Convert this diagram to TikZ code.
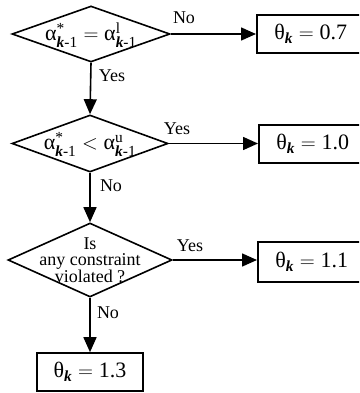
\documentclass[tikz,border=0pt]{standalone}
\usepackage{amsmath}
\usepackage{fontspec}
\setmainfont{Liberation Serif}
\usetikzlibrary{shapes.geometric,arrows.meta}

% subscript "k-1" with a bold italic k
\newcommand{\kmone}{\textbf{\textit{k}}\text{-1}}
\newcommand{\thk}[1]{$\text{θ}_{\textbf{\textit{k}}} = \text{#1}$}

\tikzset{
  flow/.style={line width=1.6pt, -{Triangle[length=15pt,width=13pt]}},
  decision/.style={diamond, draw, line width=1.6pt, inner sep=0pt},
  result/.style={rectangle, draw, line width=1.6pt, inner sep=0pt,
    font=\fontsize{22}{24}\selectfont},
  cond/.style={font=\fontsize{22}{24}\selectfont, inner sep=0pt},
  lab/.style={font=\fontsize{18}{20}\selectfont, inner sep=1pt}
}

\begin{document}
\begin{tikzpicture}[x=1pt,y=-1pt]
  \useasboundingbox (0,0) rectangle (359,393);
  \clip (0,0) rectangle (359,393);

  % decisions
  \node[decision, minimum width=158pt, minimum height=56pt] (d1) at (91,34) {};
  \node[cond] (t1) at ([yshift=-1pt]d1.center)
    {$\text{α}^{\text{*}}_{\kmone} = \text{α}^{\text{l}}_{\kmone}$};

  \node[decision, minimum width=156pt, minimum height=57pt] (d2) at (90,143.5) {};
  \node[cond] (t2) at ([yshift=-1pt]d2.center)
    {$\text{α}^{\text{*}}_{\kmone} < \text{α}^{\text{u}}_{\kmone}$};

  \node[decision, minimum width=164pt, minimum height=74pt] (d3) at (90,260) {};
  \node[font=\fontsize{18}{16.5}\selectfont, align=center, inner sep=0pt]
    (t3) at (d3.center) {Is\\any constraint\\violated ?};

  % results
  \node[result, minimum width=108pt, minimum height=38pt, anchor=west]
    (b1) at (256,34) {\thk{0.7}};
  \node[result, minimum width=108pt, minimum height=38pt, anchor=west]
    (b2) at (258,144) {\thk{1.0}};
  \node[result, minimum width=108pt, minimum height=40pt, anchor=west]
    (b3) at (257,262) {\thk{1.1}};
  \node[result, minimum width=106pt, minimum height=38pt]
    (b4) at (90,372) {\thk{1.3}};

  % connectors
  \draw[flow] (d1.east) -- (b1.west);
  \draw[flow] (d1.south) -- (d2.north);
  \draw[flow] (d2.east) -- (d2.east -| b2.west);
  \draw[flow] (d2.south) -- (d3.north);
  \draw[flow] (d3.east) -- (d3.east -| b3.west);
  \draw[flow] (d3.south) -- (b4.north);

  % branch labels
  \node[lab] (l1) at (184,18) {No};
  \node[lab] (l2) at (112,76) {Yes};
  \node[lab] (l3) at (177,129) {Yes};
  \node[lab] (l4) at (111,186) {No};
  \node[lab] (l5) at (190,246) {Yes};
  \node[lab] (l6) at (108,313) {No};
\end{tikzpicture}
\end{document}
